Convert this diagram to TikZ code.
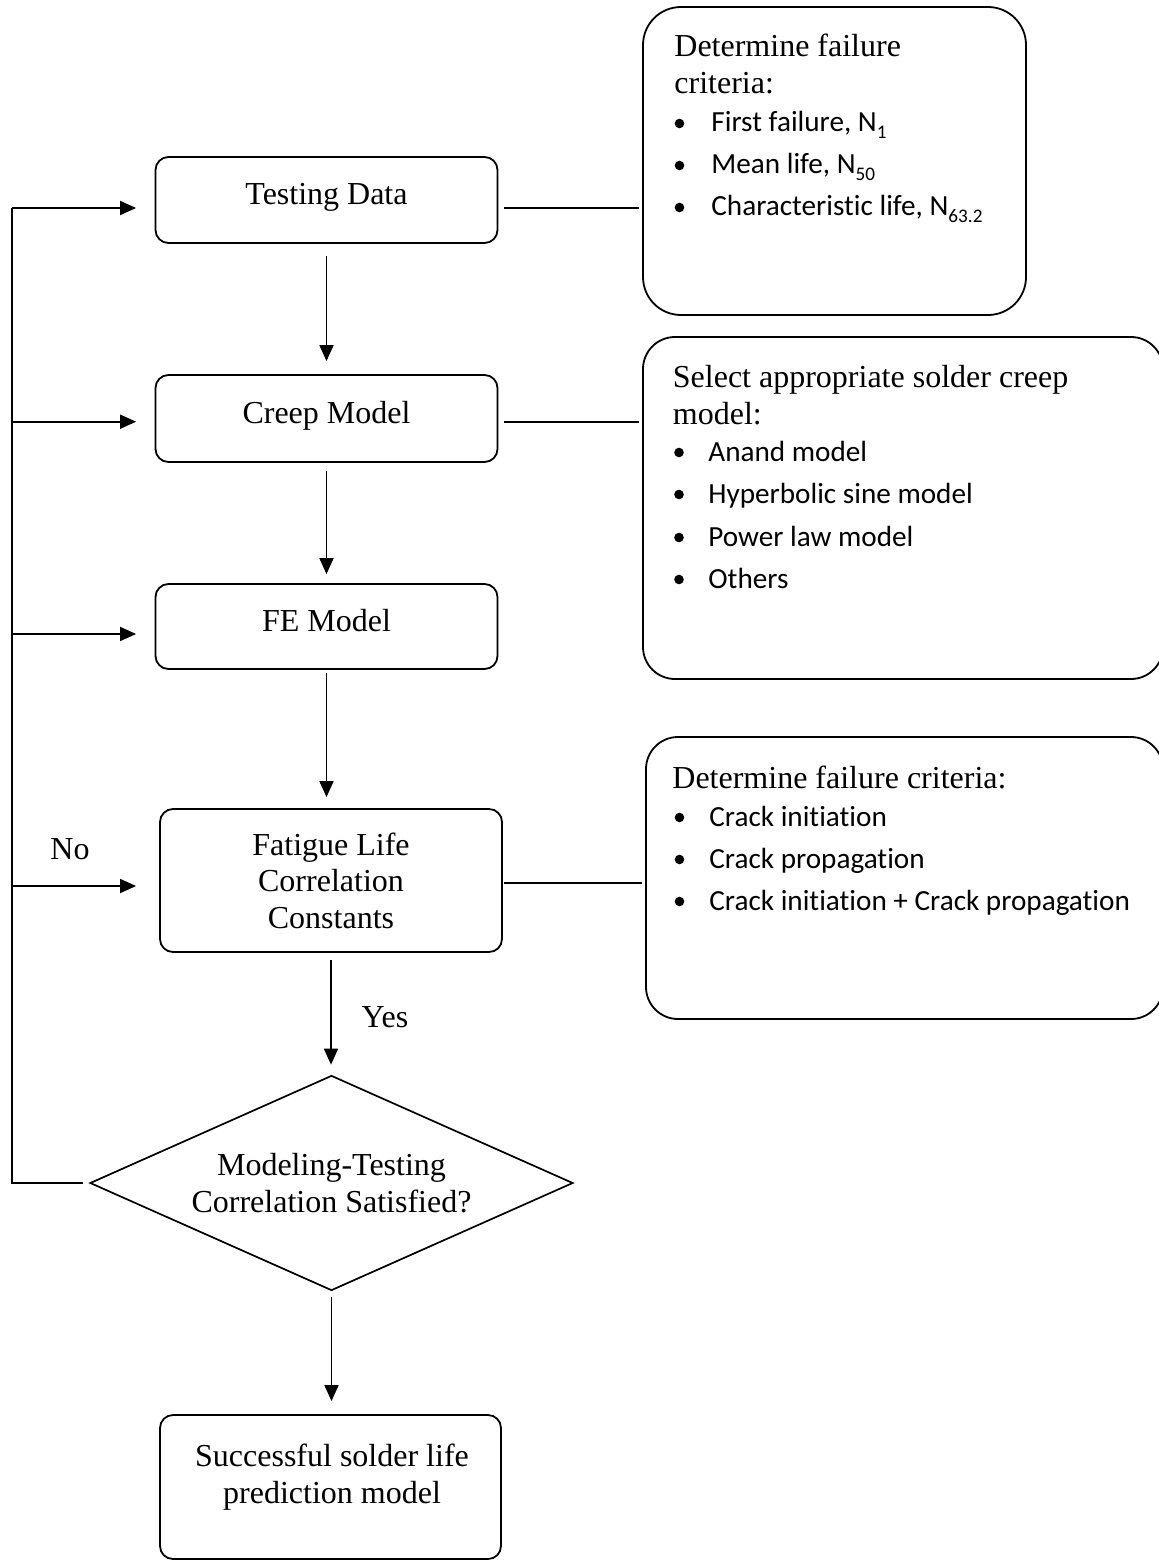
\documentclass[tikz,border=0pt]{standalone}
\usepackage{fontspec}
\setmainfont{Liberation Serif}
\newfontfamily\calib[Ligatures=NoCommon]{Carlito}
\usetikzlibrary{shapes.geometric,arrows.meta}
\newcommand{\sbs}[1]{\raisebox{-0.22em}{\fontsize{9.6}{10}\selectfont #1}}
\begin{document}
\begin{tikzpicture}[x=0.5pt,y=-0.5pt,
  every node/.style={font=\fontsize{16}{18.25}\selectfont},
  lbox/.style={draw, rounded corners=6.5pt, line width=0.9pt, minimum width=171pt, inner sep=0pt, align=center},
  sbox/.style={lbox, text height=0.7em, text depth=0.22em},
  rbox/.style={draw, line width=0.9pt, inner sep=0pt},
  dbox/.style={draw, diamond, shape aspect=2.25, line width=0.85pt, inner sep=0pt, align=center, minimum width=241.5pt, minimum height=107.5pt},
  arr/.style={line width=0.85pt, -{Triangle[length=8pt,width=7pt]}},
  conn/.style={line width=0.85pt},
  head/.style={anchor=base west, inner sep=0pt},
  item/.style={anchor=base west, inner sep=0pt, font=\calib\fontsize{14.6}{17}\selectfont},
  lbl/.style={anchor=base, inner sep=0pt}
]
\useasboundingbox (0,0) rectangle (1159,1562);

% left column
\node[sbox, minimum height=43pt] (tst) at (326.5,200) {Testing Data};
\node[sbox, minimum height=43.5pt] (crp) at (326.5,418.5) {Creep Model};
\node[sbox, minimum height=42.5pt] (fem) at (326.5,626.5) {FE Model};
\node[lbox, minimum height=71.5pt] (fat) at (331,880.5) {Fatigue Life\\Correlation\\Constants};
\node[dbox] (dia) at (331.5,1183) {Modeling-Testing\\Correlation Satisfied?};
\node[lbox, minimum width=170.5pt, minimum height=72pt] (fin) at (330.5,1487) {};
\node[lbl] (fin1) at (332,1466) {Successful solder life};
\node[lbl] (fin2) at (332,1503) {prediction model};

% right boxes
\node[rbox, rounded corners=19pt, minimum width=191.5pt, minimum height=154pt] (b1) at (834.5,161) {};
\node[rbox, rounded corners=16pt, minimum width=260pt, minimum height=171pt] (b2) at (903,508) {};
\node[rbox, rounded corners=16pt, minimum width=258.5pt, minimum height=141pt] (b3) at (904.5,878) {};

% box 1 text
\node[head] (h1a) at (674,57) {Determine failure};
\node[head] (h1b) at (674,94) {criteria:};
\node[item] (i1a) at (711,132) {First failure, N\sbs{1}};
\node[item] (i1b) at (711,174) {Mean life, N\sbs{50}};
\node[item] (i1c) at (711,216) {Characteristic life, N\sbs{63.2}};
\foreach \y in {132,174,216} \fill (679.5,\y-8.5) circle (2.4pt);

% box 2 text
\node[head] (h2a) at (672.5,387) {Select appropriate solder creep};
\node[head] (h2b) at (672.5,424) {model:};
\node[item] (i2a) at (708,461) {Anand model};
\node[item] (i2b) at (708,503) {Hyperbolic sine model};
\node[item] (i2c) at (708,546) {Power law model};
\node[item] (i2d) at (708,588) {Others};
\foreach \y in {461,503,546,588} \fill (679,\y-8.5) circle (2.4pt);

% box 3 text
\node[head] (h3a) at (672,788) {Determine failure criteria:};
\node[item] (i3a) at (709,826) {Crack initiation};
\node[item] (i3b) at (709,868) {Crack propagation};
\node[item] (i3c) at (709,910) {Crack initiation + Crack propagation};
\foreach \y in {826,868,910} \fill (679.5,\y-8.5) circle (2.4pt);

% labels
\node[lbl] (no) at (70,859) {No};
\node[lbl] (yes) at (385,1027) {Yes};

% vertical arrows
\draw[arr, shorten <=6pt, shorten >=6.5pt] (tst) -- (crp);
\draw[arr, shorten <=4pt, shorten >=4.5pt] (crp) -- (fem);
\draw[arr, shorten <=1.5pt, shorten >=5.5pt] (fem.south) -- (fem.south |- fat.north);
\draw[arr, shorten <=3.5pt, shorten >=5pt] (fat.south) -- (fat.south |- dia.north);
\draw[arr, shorten <=3pt, shorten >=6.5pt] (dia.south) -- (dia.south |- fin.north);

% feedback loop
\coordinate (L1) at (12,208);
\coordinate (L2) at (12,421.7);
\coordinate (L3) at (12,634);
\coordinate (L4) at (12,886);
\coordinate (L5) at (12,1183);
\draw[conn, shorten <=3pt] (dia.west) -- (L5) -- (L1);
\draw[arr, shorten >=9.25pt] (L1) -- (L1 -| tst.west);
\draw[arr, shorten >=9.25pt] (L2) -- (L2 -| crp.west);
\draw[arr, shorten >=9.25pt] (L3) -- (L3 -| fem.west);
\draw[arr, shorten >=11.5pt] (L4) -- (L4 -| fat.west);

% connectors to the right boxes
\coordinate (R4) at (502,883);
\draw[conn, shorten <=3pt, shorten >=1.5pt] (tst.east |- L1) -- (L1 -| b1.west);
\draw[conn, shorten <=3pt, shorten >=1.5pt] (crp.east |- L2) -- (L2 -| b2.west);
\draw[conn, shorten <=1pt, shorten >=1.5pt] (R4) -- (R4 -| b3.west);
\end{tikzpicture}
\end{document}
